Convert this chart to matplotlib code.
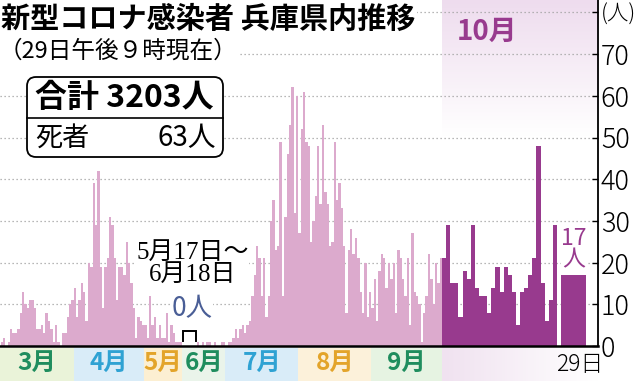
import numpy as np
import pandas as pd
import matplotlib
matplotlib.use('Agg')
import matplotlib.pyplot as plt
from matplotlib.patches import FancyBboxPatch, Rectangle
from matplotlib.colors import to_rgb

plt.rcParams['font.family'] = ['Noto Sans CJK JP', 'DejaVu Sans']

# ---------------- data ----------------
TITLE = '新型コロナ感染者 兵庫県内推移'
SUBTITLE = '（29日午後９時現在）'
TOTAL_TEXT = '合計 3203人'
DEATH_NAME = '死者'
DEATH_TEXT = '63人'

SPRING_START = '2020-03-01'          # daily cases 3/1 - 5/16
spring_cases = [1, 2, 0, 1, 4, 3, 3, 4, 8, 13,
                10, 9, 11, 11, 9, 4, 4, 5, 3, 8,
                6, 4, 1, 5, 1, 0, 3, 3, 7, 10,
                11, 14, 7, 11, 15, 13, 6, 20, 19, 39,
                29, 42, 19, 9, 19, 21, 31, 29, 21, 11,
                19, 19, 17, 25, 20, 15, 9, 2, 7, 6,
                5, 5, 2, 12, 5, 7, 2, 5, 2, 2,
                8, 1, 5, 3, 1, 1, 1]
ZERO_NOTE = '5月17日～\n6月18日'
ZERO_TEXT = '0人'
SUMMER_START = '2020-06-19'          # daily cases 6/19 - 9/30
summer_cases = [1, 0, 1, 0, 1, 1, 0, 1, 0, 0, 1, 1, 0, 1, 1, 2, 4, 2, 4, 5, 3, 5,
                6, 12, 17, 24, 21, 12, 21, 7, 12, 30, 35, 23, 24, 49, 12, 31, 46, 53,
                62, 32, 60, 27, 52, 61, 49, 48, 25, 30, 36, 48, 34, 53, 37, 34, 24, 25,
                49, 35,
                39, 33, 24, 8, 23, 28, 22, 26, 21, 13, 8, 20, 7, 13, 9, 16, 6, 18, 22,
                21, 14, 20, 16, 20, 8, 23, 21, 16, 12, 21, 5, 27, 13, 12, 10, 1, 8, 12,
                22, 16, 10, 20, 15, 21]
october_cases = [21, 29, 15, 15, 7, 18, 16, 29, 14, 12, 12, 8, 14, 19, 13,
                 19, 17, 13, 5, 13, 14, 17, 21, 48, 15, 6, 11, 29]   # 10/1 - 10/28
LATEST_LABEL = '29日'
latest_cases = 17
OCT_LABEL = '10月'
months = ['3月', '4月', '5月', '6月', '7月', '8月', '9月']
month_starts = ['2020-03-01', '2020-04-01', '2020-05-01', '2020-05-17',
                '2020-07-01', '2020-08-01', '2020-09-01', '2020-10-01']
y_ticks = [0, 10, 20, 30, 40, 50, 60, 70, 80]
y_labels = ['0', '10', '20', '30', '40', '50', '60', '70', '(人)']

# ---------------- style / layout ----------------
PINK = '#dcaacd'
PURPLE = '#983a8e'
BLUE_TXT = '#4a5e96'
GREEN = '#1f8d5e'
SKY = '#2fa2d3'
ORANGE = '#e3a42a'
month_txt_colors = [GREEN, SKY, ORANGE, GREEN, SKY, ORANGE, GREEN]
month_bg_colors = ['#eaf3d9', '#d9ecf8', '#fcefd2', '#eaf4ea', '#d9ecf8', '#fcf1da', '#e6f3e2']

W, H = 639, 381
PX = 2.355          # pixels per regular day
X0 = -0.3
GAP = 6.35          # compressed zero period
OCT_W = 1.745
LATEST_GAP = 1.7
LATEST_W = 10.6
XR = 253.6
YTOP = 346 / 4.17

s0 = pd.Timestamp(SPRING_START)
u0 = pd.Timestamp(SUMMER_START)
spring_x = np.arange(len(spring_cases), dtype=float)
summer_x0 = len(spring_cases) + GAP
summer_x = summer_x0 + np.arange(len(summer_cases))
oct_x0 = summer_x0 + len(summer_cases)
oct_x = oct_x0 + np.arange(len(october_cases)) * OCT_W
latest_x = oct_x0 + len(october_cases) * OCT_W + LATEST_GAP


def date_x(d):
    d = pd.Timestamp(d)
    if d < u0:
        return min((d - s0).days, len(spring_cases))
    return summer_x0 + (d - u0).days


fig = plt.figure(figsize=(W / 100, H / 100), dpi=100)
ax = fig.add_axes([0, (H - 346) / H, 598 / W, 346 / H])
ax.set_xlim(X0, XR)
ax.set_ylim(0, YTOP)

# October header gradient
grad = np.ones((60, 1, 3))
top = np.array(to_rgb('#eedcee'))
for i in range(60):
    t = i / 59
    grad[i, 0, :] = top * (1 - t) + np.ones(3) * t
ax.imshow(grad, extent=[oct_x0, XR, 50, YTOP], aspect='auto', zorder=0,
          interpolation='bilinear')
ax.set_xlim(X0, XR)
ax.set_ylim(0, YTOP)

ax.hlines(y_ticks[1:], X0, XR, colors='#a0a0a0', linestyles=(0, (1, 2.2)),
          lw=0.9, zorder=1)

ax.bar(spring_x, spring_cases, width=1.0, align='edge', color=PINK, lw=0, zorder=2)
ax.bar(summer_x, summer_cases, width=1.0, align='edge', color=PINK, lw=0, zorder=2)
ax.bar(oct_x, october_cases, width=OCT_W, align='edge', color=PURPLE, lw=0, zorder=3)
ax.bar([latest_x], [latest_cases], width=LATEST_W, align='edge', color=PURPLE,
       lw=0, zorder=3)

for s in ['left', 'top']:
    ax.spines[s].set_visible(False)
ax.spines['right'].set_linewidth(1.3)
ax.spines['bottom'].set_linewidth(1.8)
ax.spines['bottom'].set_zorder(5)
ax.set_xticks([])
ax.yaxis.tick_right()
ax.set_yticks(y_ticks)
ax.set_yticklabels(y_labels)
ax.tick_params(axis='y', direction='in', length=4, width=1, pad=2,
               labelsize=19.5)
for lab in ax.get_yticklabels():
    lab.set_fontweight('light')
ax.get_yticklabels()[-1].set_fontsize(15.5)

# zero-period annotation
gx1 = len(spring_cases)
gx2 = summer_x0
gc = (gx1 + gx2) / 2 + 1.2
ax.text(gc, 19.6, ZERO_NOTE, ha='center', va='center', fontsize=18,
        family=['Liberation Serif', 'Noto Sans CJK JP'], linespacing=1.0,
        zorder=6, bbox=dict(fc='white', ec='none', pad=0.5))
ax.text(gc, 8.9, ZERO_TEXT, ha='center', va='center', fontsize=19,
        color=BLUE_TXT, zorder=6, bbox=dict(fc='white', ec='none', pad=0.3))
ax.plot([gx1 + 0.6, gx1 + 0.6, gx2 - 0.6, gx2 - 0.6], [1.3, 3.7, 3.7, 1.3],
        color='black', lw=1.4, zorder=6, solid_joinstyle='miter')

# October labels
ax.text(oct_x0 + 15 / PX, 75.3, OCT_LABEL, ha='left', va='center', fontsize=20,
        fontweight='bold', color=PURPLE, zorder=6)
lc = latest_x + LATEST_W / 2
ax.text(lc, latest_cases + 0.8, '%d\n人' % latest_cases, ha='center', va='bottom',
        fontsize=16.5, color=PURPLE, linespacing=0.95, zorder=6,
        bbox=dict(fc='white', ec='none', pad=0.2))

# month band strip
axb = fig.add_axes([0, 0, 598 / W, 33 / H])
axb.set_xlim(X0, XR)
axb.set_ylim(0, 1)
axb.axis('off')
bounds = [X0] + [date_x(d) for d in month_starts[1:]]
for i, m in enumerate(months):
    a, b = bounds[i], bounds[i + 1]
    axb.add_patch(Rectangle((a, 0), b - a, 1, fc=month_bg_colors[i], ec='none'))
    axb.text((a + b) / 2, 0.55, m, ha='center', va='center', fontsize=17.5,
             fontweight='bold', color=month_txt_colors[i])
bg = np.ones((1, 60, 3))
pk = np.array(to_rgb('#f0e2f0'))
for i in range(60):
    t = i / 59
    bg[0, i, :] = pk * (1 - t) + np.ones(3) * t
axb.imshow(bg, extent=[oct_x0, XR, 0, 1], aspect='auto', zorder=0)
axb.set_xlim(X0, XR)
axb.set_ylim(0, 1)
axb.text(lc + 2.5, 0.5, LATEST_LABEL, ha='center', va='center', fontsize=16.5,
         fontweight='light')

# overlay in pixel coordinates
ov = fig.add_axes([0, 0, 1, 1])
ov.set_xlim(0, W)
ov.set_ylim(H, 0)
ov.axis('off')
ov.patch.set_alpha(0)
ov.text(1, 19, TITLE, ha='left', va='center', fontsize=21, fontweight='bold',
        bbox=dict(fc='white', ec='none', pad=1))
ov.text(-1, 51, SUBTITLE, ha='left', va='center', fontsize=17,
        bbox=dict(fc='white', ec='none', pad=1))
ov.add_patch(FancyBboxPatch((27, 77), 196, 80,
                            boxstyle='round,pad=0,rounding_size=9',
                            fc='white', ec='black', lw=1.3))
ov.plot([27, 223], [118, 118], color='black', lw=1.2)
ov.text(35, 98, TOTAL_TEXT, ha='left', va='center', fontsize=23, fontweight='bold')
ov.text(35, 138, DEATH_NAME, ha='left', va='center', fontsize=19.5)
ov.text(216, 138, DEATH_TEXT, ha='right', va='center', fontsize=20)

fig.savefig('out.png', dpi=100)
